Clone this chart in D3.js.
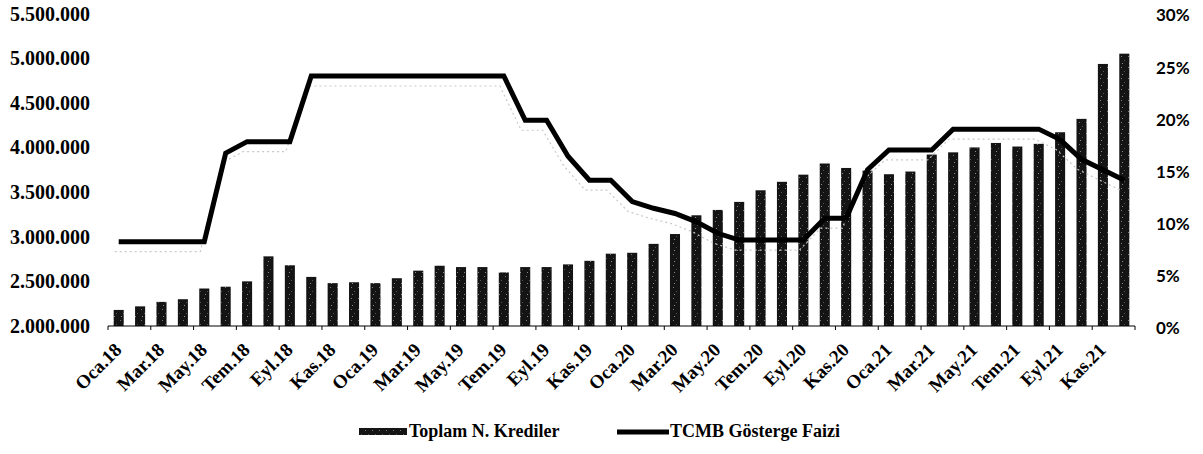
<!DOCTYPE html>
<html>
<head>
<meta charset="utf-8">
<script src="https://cdn.jsdelivr.net/npm/d3@7"></script>
<style>
  html, body { margin: 0; padding: 0; background: #fff; }
  svg { display: block; }
</style>
</head>
<body>
<div id="chart"></div>
<script>
// ---- Data ----
const categories = [
  "Oca.18","Şub.18","Mar.18","Nis.18","May.18","Haz.18","Tem.18","Ağu.18","Eyl.18","Eki.18","Kas.18","Ara.18",
  "Oca.19","Şub.19","Mar.19","Nis.19","May.19","Haz.19","Tem.19","Ağu.19","Eyl.19","Eki.19","Kas.19","Ara.19",
  "Oca.20","Şub.20","Mar.20","Nis.20","May.20","Haz.20","Tem.20","Ağu.20","Eyl.20","Eki.20","Kas.20","Ara.20",
  "Oca.21","Şub.21","Mar.21","Nis.21","May.21","Haz.21","Tem.21","Ağu.21","Eyl.21","Eki.21","Kas.21","Ara.21"
];
// Toplam N. Krediler (left axis)
const krediler = [
  2180000,2220000,2270000,2300000,2420000,2440000,2500000,2780000,2680000,2550000,2480000,2490000,
  2480000,2535000,2620000,2675000,2660000,2660000,2600000,2660000,2660000,2690000,2730000,2810000,
  2820000,2920000,3030000,3240000,3300000,3390000,3520000,3615000,3695000,3820000,3770000,3740000,
  3700000,3730000,3920000,3945000,4000000,4050000,4010000,4040000,4170000,4320000,4935000,5050000
];
// TCMB Gösterge Faizi (right axis, %)
const faiz = [
  8.1,8.1,8.1,8.1,8.1,16.6,17.7,17.7,17.7,24,24,24,
  24,24,24,24,24,24,24,19.75,19.75,16.3,14,14,
  11.95,11.3,10.8,10.0,8.9,8.25,8.25,8.25,8.25,10.35,10.35,15.0,
  16.9,16.9,16.9,18.9,18.9,18.9,18.9,18.9,17.9,16.0,15.0,14.0
];
const leftTicks = [2000000,2500000,3000000,3500000,4000000,4500000,5000000,5500000];
const rightTicks = [0,5,10,15,20,25,30];
const seriesNames = ["Toplam N. Krediler","TCMB Gösterge Faizi"];

// ---- Layout ----
const W = 1203, H = 454;
const x0 = 108, x1 = 1135, yBase = 326, yTop = 13.5;
const serif = "'Liberation Serif','Times New Roman',serif";
const sans = "Lato,'Open Sans',sans-serif";

const svg = d3.select("#chart").append("svg").attr("width", W).attr("height", H);

const defs = svg.append("defs");
const pat = defs.append("pattern").attr("id","speck").attr("patternUnits","userSpaceOnUse")
  .attr("width",7).attr("height",11);
pat.append("rect").attr("width",7).attr("height",11).attr("fill","#141414");
[[1,1,"#7a7a7a"],[4,5,"#555"],[2,8,"#8a8a8a"]].forEach(d=>{
  pat.append("rect").attr("x",d[0]).attr("y",d[1]).attr("width",1).attr("height",1).attr("fill",d[2]);
});

const x = d3.scaleBand().domain(categories).range([x0, x1]).paddingInner(0.53).paddingOuter(0.265);
const step = x.step(), bw = x.bandwidth();
const yL = d3.scaleLinear().domain([2000000, 5500000]).range([yBase, yTop]);
const yR = d3.scaleLinear().domain([0, 30]).range([yBase, yTop]);

const fmt = d3.formatLocale({decimal: ",", thousands: ".", grouping: [3], currency: ["", ""]}).format(",");

// Bars
svg.append("g").selectAll("rect").data(krediler).join("rect")
  .attr("x", (d,i) => x(categories[i]))
  .attr("y", d => yL(d))
  .attr("width", bw)
  .attr("height", d => yBase - yL(d))
  .attr("fill", "url(#speck)");

// Faint scan shadow of the line
const lineGen = d3.line().x((d,i) => x(categories[i]) + bw/2).y(d => yR(d));
svg.append("path").datum(faiz).attr("d", lineGen)
  .attr("transform","translate(-4,10)")
  .attr("fill","none").attr("stroke","#c8c8c8").attr("stroke-width",1.2)
  .attr("stroke-dasharray","2 3");

// Line
svg.append("path").datum(faiz).attr("d", lineGen)
  .attr("fill","none").attr("stroke","#000").attr("stroke-width",5)
  .attr("stroke-linejoin","miter");

// X axis line and ticks
const xa = svg.append("g");
xa.append("line").attr("x1", x0).attr("x2", x1).attr("y1", yBase).attr("y2", yBase)
  .attr("stroke","#000").attr("stroke-width",1);
const tickIdx = categories.map((c,i)=>i).filter(i => i % 2 === 0);
xa.selectAll("line.tk").data(tickIdx).join("line").attr("class","tk")
  .attr("x1", i => x(categories[i]) + bw/2 - step/2)
  .attr("x2", i => x(categories[i]) + bw/2 - step/2)
  .attr("y1", yBase).attr("y2", yBase + 4).attr("stroke","#000");
xa.append("line").attr("x1", x1).attr("x2", x1).attr("y1", yBase).attr("y2", yBase+4).attr("stroke","#000");

// X labels, rotated -45deg, baseline end near the category centre
xa.selectAll("text.lab").data(tickIdx).join("text").attr("class","lab")
  .attr("transform", i => "translate(" + (x(categories[i]) + bw/2 + 4) + "," + 351 + ") rotate(-45)")
  .attr("text-anchor","end")
  .attr("font-family", serif).attr("font-weight","bold").attr("font-size", 19)
  .text(i => categories[i]);

// Left axis labels
svg.append("g").selectAll("text").data(leftTicks).join("text")
  .attr("x", 90).attr("y", d => yL(d)).attr("dy","0.35em")
  .attr("text-anchor","end")
  .attr("font-family", serif).attr("font-weight","bold").attr("font-size", 20)
  .text(d => fmt(d));

// Right axis labels
svg.append("g").selectAll("text").data(rightTicks).join("text")
  .attr("x", 1156).attr("y", d => yR(d) + 2).attr("dy","0.35em")
  .attr("text-anchor","start")
  .attr("font-family", sans).attr("font-weight","bold").attr("font-size", 17)
  .text(d => d + "%");

// Legend
const lg = svg.append("g");
lg.append("rect").attr("x", 359).attr("y", 428).attr("width", 48).attr("height", 7).attr("fill","url(#speck)");
lg.append("text").attr("x", 409).attr("y", 437)
  .attr("font-family", serif).attr("font-weight","bold").attr("font-size", 18)
  .text(seriesNames[0]);
lg.append("line").attr("x1", 617).attr("x2", 669).attr("y1", 432).attr("y2", 432)
  .attr("stroke","#000").attr("stroke-width",5);
lg.append("text").attr("x", 670).attr("y", 437)
  .attr("font-family", serif).attr("font-weight","bold").attr("font-size", 18)
  .text(seriesNames[1]);
</script>
</body>
</html>
